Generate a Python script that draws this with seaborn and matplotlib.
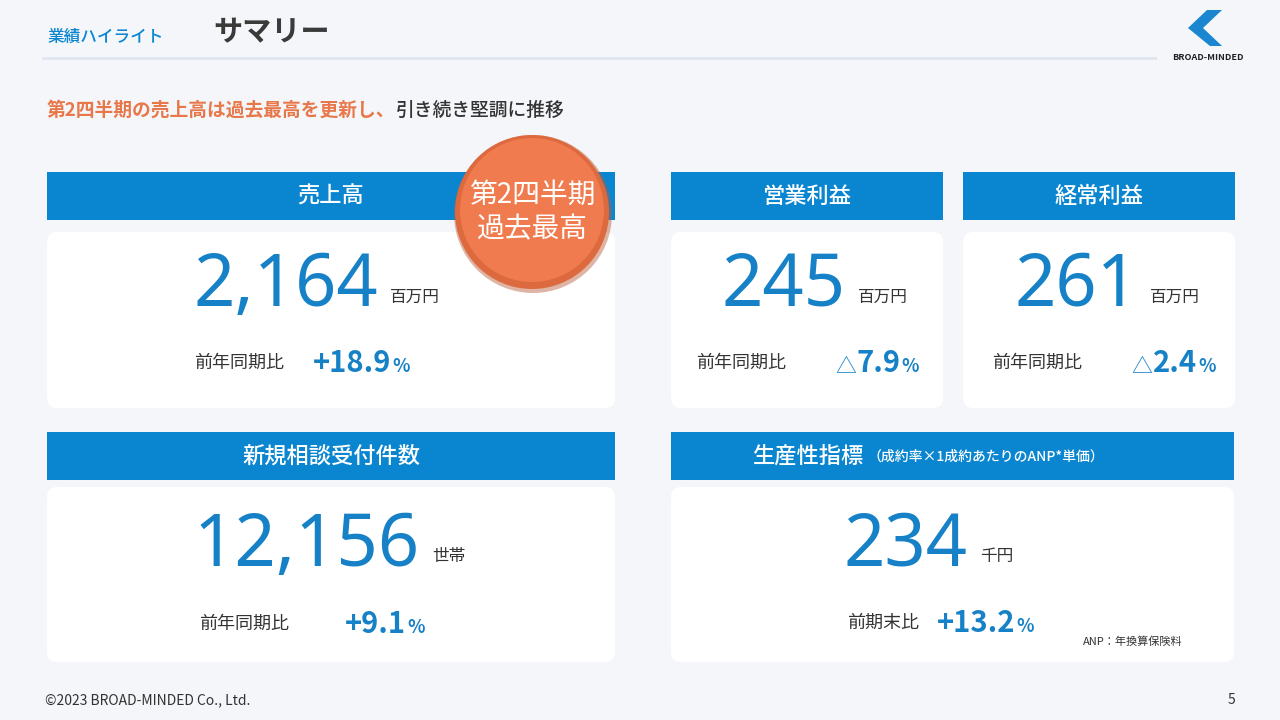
import matplotlib
matplotlib.use("Agg")
import matplotlib.pyplot as plt
import seaborn as sns
from matplotlib.patches import FancyBboxPatch, Rectangle, Circle, Polygon

sns.set_theme(style="white")
plt.rcParams['font.family'] = ['Noto Sans CJK JP', 'DejaVu Sans']
NUMFONT = ['Noto Sans', 'Noto Sans CJK JP', 'DejaVu Sans']

# ---- data ----
kpi_titles = ["売上高", "営業利益", "経常利益", "新規相談受付件数", "生産性指標"]
kpi_values = ["2,164", "245", "261", "12,156", "234"]
kpi_units = ["百万円", "百万円", "百万円", "世帯", "千円"]
cmp_labels = ["前年同期比", "前年同期比", "前年同期比", "前年同期比", "前期末比"]
cmp_values = ["+18.9", "△7.9", "△2.4", "+9.1", "+13.2"]
subtitle_orange = "第2四半期の売上高は過去最高を更新し、"
subtitle_gray = "引き続き堅調に推移"

# ---- layout (pixels) ----
BLUE = "#0a86d1"
NUMC = "#1681c6"
DARK = "#333333"
layout = [
    dict(x0=47, x1=615, hy=(172, 220), cy=(232, 408), nx=378, ny=306, uy=297, lx=239, vx=313, vy=363),
    dict(x0=671, x1=943, hy=(172, 220), cy=(232, 408), nx=846, ny=306, uy=297, lx=741, vx=835, vy=363),
    dict(x0=963, x1=1235, hy=(172, 220), cy=(232, 408), nx=1138, ny=306, uy=297, lx=1037, vx=1131, vy=363),
    dict(x0=47, x1=615, hy=(432, 480), cy=(487, 662), nx=420, ny=566, uy=556, lx=244, vx=345, vy=624),
    dict(x0=671, x1=1234, hy=(432, 480), cy=(487, 662), nx=968, ny=566, uy=556, lx=883, vx=937, vy=623),
]

fig = plt.figure(figsize=(12.8, 7.2), dpi=100)
fig.patch.set_facecolor("#f4f6fa")
ax = fig.add_axes([0, 0, 1, 1])
ax.set_xlim(0, 1280)
ax.set_ylim(720, 0)
ax.axis("off")
fig.canvas.draw()
renderer = fig.canvas.get_renderer()

def width_px(t):
    return t.get_window_extent(renderer=renderer).width

# title area
ax.text(47, 37, "業績ハイライト", color=BLUE, fontsize=12, fontweight="medium", va="center")
ax.text(213, 32, "サマリー", color="#3a3a3a", fontsize=21, fontweight="bold", va="center")
ax.add_patch(Rectangle((42, 57), 1115, 3, color="#e2e6f0", lw=0))
# logo
ax.add_patch(Polygon([(1207, 10), (1222, 10), (1203, 28), (1222, 46), (1210, 46), (1188, 28)],
                     closed=True, color="#1a86cf", lw=0))
ax.text(1208, 57, "BROAD-MINDED", fontsize=6.5, fontweight="bold", ha="center", va="center", color="#222")

t1 = ax.text(47, 110, subtitle_orange, color="#e8784a", fontsize=13.5, fontweight="bold", va="center")
ax.text(47 + width_px(t1), 110, subtitle_gray, color=DARK, fontsize=13.5, fontweight="medium", va="center")

for i, L in enumerate(layout):
    x0, x1 = L["x0"], L["x1"]
    ax.add_patch(Rectangle((x0, L["hy"][0]), x1 - x0, L["hy"][1] - L["hy"][0], color=BLUE, lw=0))
    ax.add_patch(FancyBboxPatch((x0, L["cy"][0]), x1 - x0, L["cy"][1] - L["cy"][0],
                                boxstyle="round,pad=0,rounding_size=10", fc="white", ec="none"))
    hc = (L["hy"][0] + L["hy"][1]) / 2
    if i == 4:
        t = ax.text(752, hc, kpi_titles[i], color="white", fontsize=16, fontweight="medium", va="center")
        ax.text(752 + width_px(t) + 4, hc + 1, "（成約率×1成約あたりのANP*単価）", color="white",
                fontsize=10, fontweight="medium", va="center")
    else:
        ax.text((x0 + x1) / 2, hc, kpi_titles[i], color="white", fontsize=16, fontweight="medium",
                ha="center", va="center")
    ax.text(L["nx"], L["ny"], kpi_values[i], color=NUMC, fontsize=52, family=NUMFONT,
            ha="right", va="baseline")
    ax.text(L["nx"] + 12, L["uy"], kpi_units[i], color=DARK, fontsize=12,
            ha="left", va="center")
    ax.text(L["lx"], L["vy"], cmp_labels[i], color=DARK, fontsize=13,
            ha="center", va="center")
    x = L["vx"]
    val = cmp_values[i]
    base = L["vy"] + 9
    if val.startswith("△"):
        tt = ax.text(x, base, "△", color=NUMC, fontsize=15, ha="left", va="baseline")
        x += width_px(tt) + 1
        val = val[1:]
    tv = ax.text(x, base, val, color=NUMC, fontsize=21, fontweight="bold",
                 ha="left", va="baseline")
    ax.text(x + width_px(tv) + 1, base, "%", color=NUMC, fontsize=13,
            fontweight="bold", ha="left", va="baseline")

ax.text(1133, 642, "ANP：年換算保険料", color=DARK, fontsize=8, ha="center", va="center")

# badge
ax.add_patch(Circle((533, 214), 79, color="#b85a36", lw=0, alpha=0.45))
ax.add_patch(Circle((532, 212), 77, color="#dd6a3e", lw=0))
ax.add_patch(Circle((532, 210), 72, color="#ef7b4f", lw=0))
ax.text(532, 195, "第2四半期", color="white", fontsize=20, ha="center", va="center")
ax.text(532, 229, "過去最高", color="white", fontsize=20, ha="center", va="center")

ax.text(45, 700, "©2023 BROAD-MINDED Co., Ltd.", color=DARK, fontsize=10, va="center")
ax.text(1235, 700, "5", color=DARK, fontsize=10, ha="right", va="center")

fig.savefig("out.png", dpi=100, facecolor=fig.get_facecolor())
